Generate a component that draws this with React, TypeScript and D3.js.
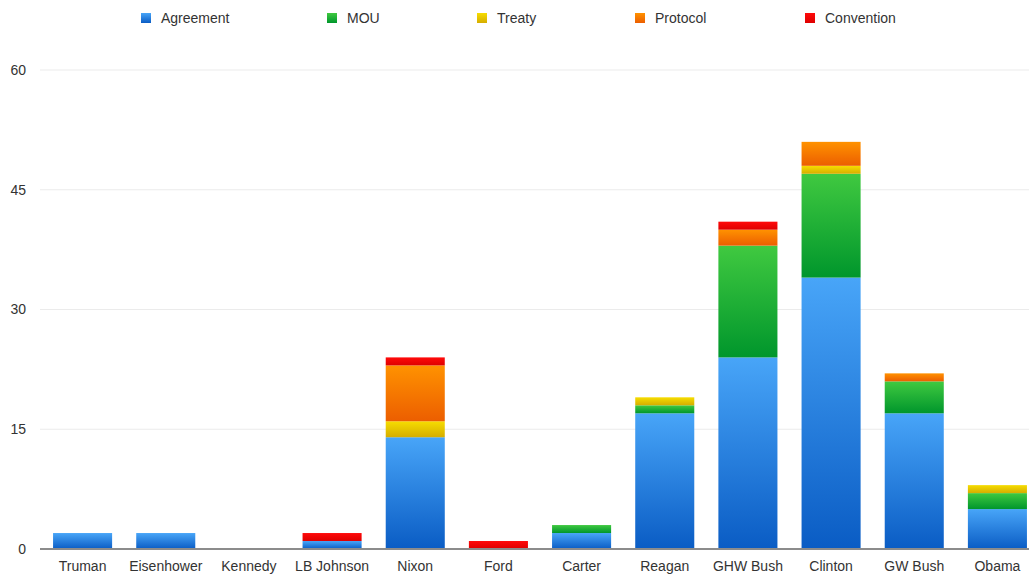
import React from 'react';
import * as d3 from 'd3';

const presidents = [
  'Truman', 'Eisenhower', 'Kennedy', 'LB Johnson', 'Nixon', 'Ford',
  'Carter', 'Reagan', 'GHW Bush', 'Clinton', 'GW Bush', 'Obama',
];
const types = ['Agreement', 'MOU', 'Treaty', 'Protocol', 'Convention'];

// one array per type, in president order
const agreement = [2, 2, 0, 1, 14, 0, 2, 17, 24, 34, 17, 5];
const mou = [0, 0, 0, 0, 0, 0, 1, 1, 14, 13, 4, 2];
const treaty = [0, 0, 0, 0, 2, 0, 0, 1, 0, 1, 0, 1];
const protocol = [0, 0, 0, 0, 7, 0, 0, 0, 2, 3, 1, 0];
const convention = [0, 0, 0, 1, 1, 1, 0, 0, 1, 0, 0, 0];

const yTicks = [0, 15, 30, 45, 60];

const colors: Record<string, [string, string]> = {
  Agreement: ['#48a5f8', '#0a5cc4'],
  MOU: ['#40c940', '#00962c'],
  Treaty: ['#f6dd00', '#d6ad00'],
  Protocol: ['#ff9200', '#ec5e00'],
  Convention: ['#ff0a0a', '#de0000'],
};

const W = 1029;
const H = 574;
const margin = { top: 70, right: -10, bottom: 25, left: 41 };
const legendX = [141, 327, 477, 635, 805];

const App: React.FC = () => {
  const rows = presidents.map((p, i) => ({
    president: p,
    Agreement: agreement[i],
    MOU: mou[i],
    Treaty: treaty[i],
    Protocol: protocol[i],
    Convention: convention[i],
  }));
  const stacked = d3.stack<any>().keys(types)(rows);

  const x = d3
    .scaleBand()
    .domain(presidents)
    .range([margin.left, W - margin.right])
    .paddingInner(0.29)
    .paddingOuter(0.145);
  const y = d3.scaleLinear().domain([0, 60]).range([H - margin.bottom, margin.top]);

  const font = '"Liberation Sans", Arial, Helvetica, sans-serif';

  return (
    <svg
      width={W}
      height={H}
      style={{ position: 'absolute', left: 0, top: 0, background: '#fff' }}
      fontFamily={font}
    >
      <defs>
        {types.map((t) => (
          <linearGradient key={t} id={'g-' + t} x1="0" y1="0" x2="0" y2="1">
            <stop offset="0%" stopColor={colors[t][0]} />
            <stop offset="100%" stopColor={colors[t][1]} />
          </linearGradient>
        ))}
      </defs>

      {/* gridlines */}
      {yTicks.map((t) => (
        <g key={t}>
          {t > 0 && (
            <line x1={40} x2={W} y1={y(t)} y2={y(t)} stroke="#ebebeb" strokeWidth={1} />
          )}
          <text x={26} y={y(t)} dy="0.35em" textAnchor="end" fontSize={14} fill="#333">
            {t}
          </text>
        </g>
      ))}

      {/* bars */}
      {stacked.map((s) => (
        <g key={s.key} fill={`url(#g-${s.key})`}>
          {s.map((d, i) =>
            d[1] - d[0] > 0 ? (
              <rect
                key={i}
                x={x(presidents[i])!}
                y={y(d[1])}
                width={x.bandwidth()}
                height={y(d[0]) - y(d[1])}
              />
            ) : null
          )}
        </g>
      ))}

      {/* baseline */}
      <line x1={40} x2={W} y1={y(0)} y2={y(0)} stroke="#8c8c8c" strokeWidth={2} />

      {/* x labels */}
      {presidents.map((p) => (
        <text
          key={p}
          x={x(p)! + x.bandwidth() / 2}
          y={571}
          textAnchor="middle"
          fontSize={14}
          fill="#333"
        >
          {p}
        </text>
      ))}

      {/* legend */}
      {types.map((t, i) => (
        <g key={t} transform={`translate(${legendX[i]},13)`}>
          <rect width={10} height={10} fill={`url(#g-${t})`} />
          <text x={20} y={5} dy="0.35em" fontSize={14} fill="#333">
            {t}
          </text>
        </g>
      ))}
    </svg>
  );
};

export default App;
